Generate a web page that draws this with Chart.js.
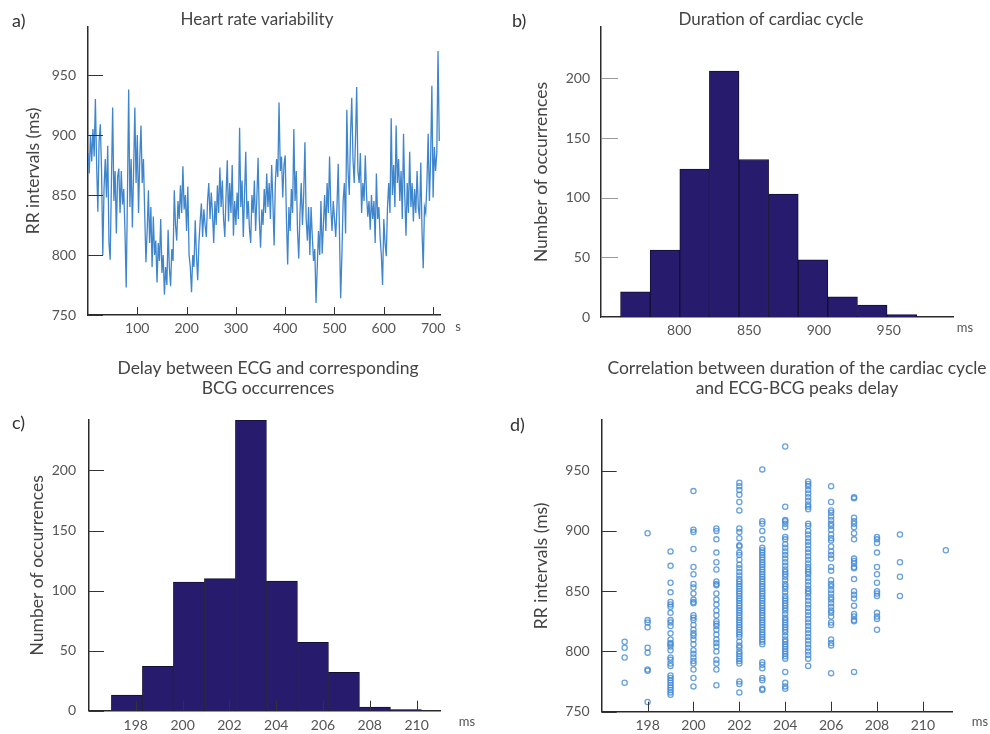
<!DOCTYPE html>
<html>
<head>
<meta charset="utf-8">
<title>HRV, cardiac cycle and ECG-BCG delay</title>
<script src="https://cdn.jsdelivr.net/npm/chart.js@4.4.1/dist/chart.umd.min.js"></script>
<style>
  html, body { margin: 0; padding: 0; background: #fff; }
  #page { position: relative; width: 990px; height: 734px; overflow: hidden; }
  #page canvas { position: absolute; }
</style>
</head>
<body>
<div id="page">
  <canvas id="chartA" width="495" height="345" style="left:0;top:0"></canvas>
  <canvas id="chartB" width="495" height="345" style="left:495px;top:0"></canvas>
  <canvas id="chartC" width="495" height="389" style="left:0;top:345px"></canvas>
  <canvas id="chartD" width="495" height="389" style="left:495px;top:345px"></canvas>
</div>
<script>
// a) RR intervals (ms), every 2.5 s
const hrvStepSec = 2.5;
const rrIntervals = [
  885, 868, 900, 878, 905, 882, 930, 875, 836, 895,
  909, 870, 800, 855, 880, 848, 891, 810, 796, 860,
  923, 845, 870, 818, 865, 872, 835, 870, 842, 855,
  820, 773, 850, 938, 840, 880, 823, 870, 923, 860,
  900, 835, 880, 908, 860, 880, 835, 794, 820, 854,
  810, 840, 790, 832, 800, 812, 777, 810, 795, 830,
  785, 800, 767, 790, 775, 821, 790, 774, 805, 795,
  854, 825, 812, 845, 830, 858, 835, 874, 838, 850,
  820, 857, 800, 790, 769, 800, 790, 829, 800, 779,
  810, 828, 843, 815, 838, 825, 815, 845, 860, 830,
  852, 835, 810, 845, 825, 858, 835, 873, 840, 862,
  830, 815, 850, 879, 828, 860, 835, 875, 816, 845,
  825, 852, 830, 906, 840, 862, 815, 850, 886, 830,
  845, 822, 810, 850, 835, 862, 820, 848, 881, 830,
  806, 838, 825, 855, 835, 868, 840, 860, 830, 875,
  845, 808, 860, 880, 865, 927, 870, 882, 848, 875,
  883, 830, 792, 840, 820, 855, 835, 905, 845, 870,
  820, 797, 835, 860, 825, 850, 894, 830, 812, 840,
  800, 840, 815, 795, 805, 760, 790, 820, 800, 845,
  801, 825, 850, 820, 860, 835, 882, 840, 820, 845,
  830, 815, 840, 876, 820, 764, 800, 845, 860, 818,
  921, 870, 850, 900, 931, 880, 860, 895, 940, 870,
  860, 885, 835, 860, 845, 883, 850, 832, 845, 821,
  850, 830, 845, 810, 868, 830, 840, 815, 800, 775,
  830, 810, 799, 840, 860, 835, 914, 850, 875, 840,
  908, 860, 880, 845, 870, 830, 901, 850, 816, 860,
  835, 886, 840, 860, 828, 855, 835, 870, 840, 830,
  877, 820, 789, 840, 835, 860, 901, 845, 880, 941,
  848, 890, 870, 885, 970, 895
];
const hrvTimeTicks = [100, 200, 300, 400, 500, 600, 700];
const rrTicks = [750, 800, 850, 900, 950];

// b) histogram of cardiac cycle duration
const cycleBinCenters = [768.6, 789.8, 811.0, 832.2, 853.4, 874.6, 895.8, 917.0, 938.2, 959.4];
const cycleCounts = [21, 56, 124, 206, 132, 103, 48, 17, 10, 2];
const cycleTicks = [800, 850, 900, 950];
const countTicks = [0, 50, 100, 150, 200];

// c) histogram of ECG -> BCG delay
const delayBinCenters = [197.62, 198.945, 200.27, 201.595, 202.92, 204.245, 205.57, 206.895, 208.22, 209.545];
const delayCounts = [13, 37, 107, 110, 242, 108, 57, 32, 3, 1];
const delayTicks = [198, 200, 202, 204, 206, 208, 210];

// d) RR interval against delay, one column per delay value
const delayColumns = [197, 198, 199, 200, 201, 202, 203, 204, 205, 206, 207, 208, 209, 211];
const rrAtDelay = [
  [808, 803, 795, 774],
  [898, 826, 824, 820, 803, 799, 785, 784, 758],
  [883, 871, 857, 849, 841, 839, 837, 832, 826, 824, 821, 815, 810, 807, 806, 804, 801, 795, 793, 790, 788, 780, 778, 776, 774, 772, 770, 768, 766, 764],
  [933, 901, 899, 885, 870, 864, 856, 853, 848, 843, 841, 840, 830, 828, 826, 822, 818, 815, 813, 810, 806, 801, 798, 795, 792, 790, 785, 778, 771],
  [902, 900, 893, 882, 874, 868, 858, 856, 855, 848, 843, 839, 834, 830, 825, 823, 821, 818, 814, 810, 807, 804, 800, 793, 790, 785, 772],
  [940, 937, 934, 930, 924, 917, 902, 899, 894, 888, 887, 882, 880, 876, 872, 869, 866, 863, 860, 858, 856, 854, 852, 850, 848, 846, 844, 842, 840, 838, 836, 834, 832, 830, 828, 826, 824, 822, 820, 818, 816, 814, 812, 808, 805, 803, 800, 798, 796, 794, 792, 790, 775, 773, 766],
  [951, 908, 906, 900, 893, 886, 884, 882, 880, 878, 876, 874, 872, 870, 868, 866, 864, 862, 860, 858, 856, 854, 852, 850, 848, 846, 844, 842, 840, 838, 836, 834, 832, 830, 828, 826, 824, 822, 820, 818, 816, 814, 812, 810, 808, 806, 791, 789, 786, 778, 776, 769, 768],
  [970, 920, 909, 908, 906, 903, 895, 893, 889, 886, 883, 880, 877, 874, 871, 868, 866, 864, 862, 859, 856, 854, 852, 849, 846, 844, 842, 840, 838, 836, 834, 831, 828, 826, 824, 822, 820, 818, 816, 813, 810, 808, 806, 804, 802, 800, 798, 796, 794, 783, 774, 771, 769],
  [941, 939, 937, 934, 931, 928, 925, 922, 920, 918, 906, 904, 900, 897, 894, 891, 888, 885, 882, 879, 876, 873, 870, 868, 866, 864, 861, 858, 855, 852, 850, 848, 845, 842, 839, 836, 833, 830, 827, 824, 821, 818, 815, 812, 809, 806, 803, 800, 797, 794, 788],
  [937, 924, 917, 915, 912, 909, 906, 904, 901, 897, 894, 892, 887, 883, 880, 877, 870, 867, 859, 856, 854, 851, 848, 845, 843, 840, 837, 834, 832, 829, 824, 822, 810, 807, 805, 782],
  [928, 927, 911, 908, 906, 903, 898, 893, 877, 875, 873, 870, 869, 860, 850, 847, 844, 838, 831, 829, 826, 825, 783],
  [895, 893, 890, 882, 870, 864, 857, 850, 848, 846, 832, 829, 827, 818],
  [897, 874, 862, 846],
  [884]
];

const FONT = 'Lato';
const TEXT_GREY = '#555';
const TITLE_GREY = '#444';
const BAR_FILL = '#261b6c';
const BLUE = '#3f85cc';

Chart.defaults.font.family = FONT;
Chart.defaults.animation = false;

// short tick marks drawn inside the plot area
const innerTicks = {
  id: 'innerTicks',
  afterDatasetsDraw(chart, args, opts) {
    const { ctx, chartArea, scales } = chart;
    ctx.save();
    ctx.strokeStyle = opts.color || '#333';
    ctx.lineWidth = 1;
    if (opts.y) {
      scales.y.ticks.forEach(t => {
        const py = Math.round(scales.y.getPixelForValue(t.value)) + 0.5;
        ctx.beginPath();
        ctx.moveTo(chartArea.left, py);
        ctx.lineTo(chartArea.left + opts.y, py);
        ctx.stroke();
      });
    }
    if (opts.x) {
      scales.x.ticks.forEach(t => {
        const px = Math.round(scales.x.getPixelForValue(t.value)) + 0.5;
        ctx.beginPath();
        ctx.moveTo(px, chartArea.bottom);
        ctx.lineTo(px, chartArea.bottom - opts.x);
        ctx.stroke();
      });
    }
    ctx.restore();
  }
};

// panel letters, chart titles and unit labels
const panelText = {
  id: 'panelText',
  afterDraw(chart, args, opts) {
    const ctx = chart.ctx;
    ctx.save();
    ctx.textBaseline = 'middle';
    (opts.items || []).forEach(it => {
      ctx.font = it.size + 'px ' + FONT;
      ctx.fillStyle = it.color || TITLE_GREY;
      ctx.textAlign = it.align || 'center';
      ctx.fillText(it.text, it.x, it.y);
    });
    ctx.restore();
  }
};

function yAxis(min, max, tickValues, title, width, labelPad, titlePad) {
  return {
    type: 'linear', position: 'left', min: min, max: max,
    afterBuildTicks: s => { s.ticks = tickValues.map(v => ({ value: v })); },
    afterFit: s => { s.width = width; },
    grid: { display: false, drawTicks: false },
    border: { display: true, color: '#2a2a2a', width: 1.5 },
    ticks: { color: TEXT_GREY, font: { size: 14 }, padding: labelPad, autoSkip: false },
    title: { display: true, text: title, color: TITLE_GREY, font: { size: 17.5 }, padding: { top: titlePad, bottom: 0 } }
  };
}

function xAxis(min, max, tickValues, height, labelPad) {
  return {
    type: 'linear', position: 'bottom', min: min, max: max, offset: false,
    afterBuildTicks: s => { s.ticks = tickValues.map(v => ({ value: v })); },
    afterFit: s => { s.height = height; },
    grid: { display: false, drawTicks: false, offset: false },
    border: { display: true, color: '#2a2a2a', width: 1.5 },
    ticks: { color: TEXT_GREY, font: { size: 14 }, padding: labelPad, autoSkip: false, maxRotation: 0 }
  };
}

const basePlugins = { legend: { display: false }, tooltip: { enabled: false } };

// a) heart rate variability
new Chart(document.getElementById('chartA'), {
  type: 'line',
  data: {
    datasets: [{
      data: rrIntervals.map((v, i) => ({ x: i * hrvStepSec, y: v })),
      borderColor: BLUE,
      borderWidth: 1.3,
      pointRadius: 0,
      tension: 0
    }]
  },
  options: {
    responsive: false,
    layout: { padding: { left: 0, top: 27, right: 55, bottom: 0 } },
    scales: {
      x: xAxis(0, 714, hrvTimeTicks, 30, 5),
      y: yAxis(750, 990, rrTicks, 'RR intervals (ms)', 88, 12, 22.5)
    },
    plugins: Object.assign({}, basePlugins, {
      innerTicks: { x: 8, y: 15, color: '#333' },
      panelText: { items: [
        { text: 'a)', x: 12, y: 21, size: 18, align: 'left', color: '#333' },
        { text: 'Heart rate variability', x: 257, y: 20, size: 17 },
        { text: 's', x: 458, y: 327, size: 13, color: TEXT_GREY }
      ] }
    })
  },
  plugins: [innerTicks, panelText]
});

// b) duration of cardiac cycle
new Chart(document.getElementById('chartB'), {
  type: 'bar',
  data: {
    datasets: [{
      data: cycleBinCenters.map((c, i) => ({ x: c, y: cycleCounts[i] })),
      backgroundColor: BAR_FILL,
      borderColor: '#141033',
      borderWidth: 1,
      barPercentage: 1,
      categoryPercentage: 1
    }]
  },
  options: {
    responsive: false,
    layout: { padding: { left: 0, top: 27, right: 37, bottom: 0 } },
    scales: {
      x: xAxis(744, 996, cycleTicks, 28, 5),
      y: yAxis(0, 243, countTicks, 'Number of occurrences', 106, 11, 35.5)
    },
    plugins: Object.assign({}, basePlugins, {
      innerTicks: { y: 17, color: '#999' },
      panelText: { items: [
        { text: 'b)', x: 17, y: 21, size: 18, align: 'left', color: '#333' },
        { text: 'Duration of cardiac cycle', x: 276, y: 20, size: 17 },
        { text: 'ms', x: 470, y: 328, size: 13, color: TEXT_GREY }
      ] }
    })
  },
  plugins: [innerTicks, panelText]
});

// c) delay between ECG and BCG
new Chart(document.getElementById('chartC'), {
  type: 'bar',
  data: {
    datasets: [{
      data: delayBinCenters.map((c, i) => ({ x: c, y: delayCounts[i] })),
      backgroundColor: BAR_FILL,
      borderColor: '#141033',
      borderWidth: 1,
      barPercentage: 1,
      categoryPercentage: 1
    }]
  },
  options: {
    responsive: false,
    layout: { padding: { left: 0, top: 75, right: 55, bottom: 0 } },
    scales: {
      x: xAxis(196, 211, delayTicks, 23.3, 6),
      y: yAxis(0, 242, countTicks, 'Number of occurrences', 89, 13, 26.5)
    },
    plugins: Object.assign({}, basePlugins, {
      innerTicks: { x: 10, y: 15, color: '#333' },
      panelText: { items: [
        { text: 'c)', x: 12, y: 78, size: 18, align: 'left', color: '#333' },
        { text: 'Delay between ECG and corresponding', x: 268, y: 23, size: 17.5 },
        { text: 'BCG occurrences', x: 268, y: 43, size: 17.5 },
        { text: 'ms', x: 467, y: 377, size: 13, color: TEXT_GREY }
      ] }
    })
  },
  plugins: [innerTicks, panelText]
});

// d) RR interval vs ECG-BCG delay
const scatterPoints = [];
delayColumns.forEach((d, i) => rrAtDelay[i].forEach(v => scatterPoints.push({ x: d, y: v })));

new Chart(document.getElementById('chartD'), {
  type: 'scatter',
  data: {
    datasets: [{
      data: scatterPoints,
      pointStyle: 'circle',
      pointRadius: 2.6,
      pointBorderWidth: 1.3,
      borderColor: 'rgba(66,138,212,0.8)',
      backgroundColor: 'rgba(0,0,0,0)'
    }]
  },
  options: {
    responsive: false,
    layout: { padding: { left: 0, top: 75, right: 37.3, bottom: 0 } },
    scales: {
      x: xAxis(196, 211.3, delayTicks, 22.3, 5),
      y: yAxis(750, 992, rrTicks, 'RR intervals (ms)', 106.7, 12, 36)
    },
    plugins: Object.assign({}, basePlugins, {
      innerTicks: { x: 10, y: 15, color: '#333' },
      panelText: { items: [
        { text: 'd)', x: 15, y: 80, size: 18, align: 'left', color: '#333' },
        { text: 'Correlation between duration of the cardiac cycle', x: 302, y: 23, size: 17.5 },
        { text: 'and ECG-BCG peaks delay', x: 302, y: 43, size: 17.5 },
        { text: 'ms', x: 485, y: 377, size: 13, color: TEXT_GREY }
      ] }
    })
  },
  plugins: [innerTicks, panelText]
});
</script>
</body>
</html>
